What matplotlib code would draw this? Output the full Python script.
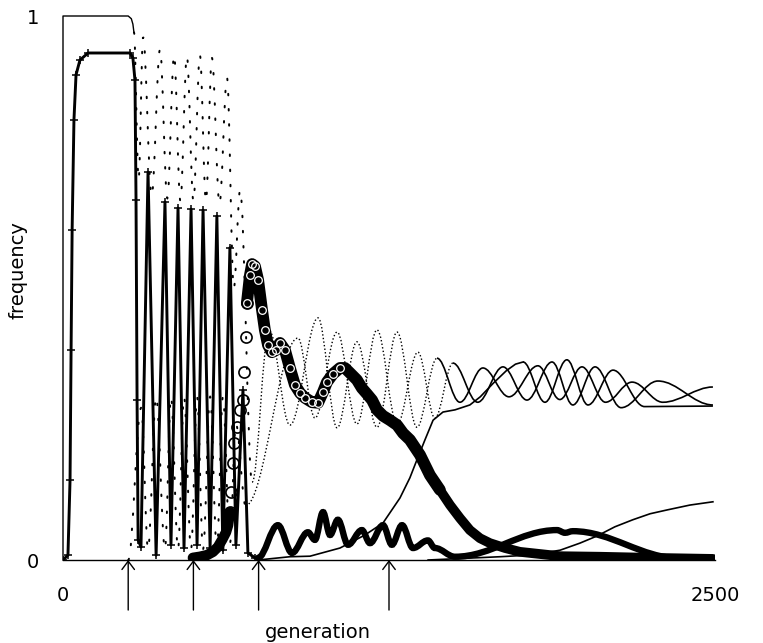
import numpy as np
import matplotlib
matplotlib.use("Agg")
import matplotlib.pyplot as plt
from matplotlib.path import Path
from matplotlib.patches import PathPatch

# allele frequency trajectories (generation, frequency)

# fixed allele, then fast dotted cycling, then slow cycling
top_solid_gen = [0, 0, 250, 262, 268, 272]
top_solid_val = [0.0, 1.0, 1.0, 0.995, 0.985, 0.97]
top_fast_gen = [272, 290, 307, 340, 372, 400, 426, 450, 475, 500, 525, 548, 571, 600,
                629, 655, 679, 725]
top_fast_val = [0.97, 0.70, 0.961, 0.67, 0.939, 0.665, 0.928, 0.66, 0.926, 0.66, 0.928,
                0.66, 0.923, 0.655, 0.886, 0.50, 0.680, 0.143]
top_slow_gen = [725, 790, 870, 978, 1051, 1127, 1204, 1281, 1357, 1434]
top_slow_val = [0.143, 0.423, 0.248, 0.445, 0.243, 0.401, 0.244, 0.419, 0.244, 0.371]
braid_a_gen = [1434, 1522, 1610, 1710, 1821, 1905, 1990, 2080, 2182, 2300, 2492]
braid_a_val = [0.371, 0.290, 0.353, 0.300, 0.357, 0.295, 0.355, 0.290, 0.327, 0.290, 0.318]

# low dotted cycling
low_fast_gen = [250, 300, 326, 357, 391, 414, 441, 464, 491, 514, 537, 564, 590, 613, 640,
                663, 700]
low_fast_val = [0.0, 0.28, 0.02, 0.30, 0.02, 0.30, 0.02, 0.30, 0.02, 0.30, 0.02, 0.30, 0.02,
                0.30, 0.03, 0.25, 0.10]
low_slow_gen = [700, 901, 966, 1051, 1127, 1204, 1281, 1361, 1426, 1495]
low_slow_val = [0.10, 0.408, 0.261, 0.419, 0.25, 0.423, 0.25, 0.382, 0.261, 0.362]
braid_b_gen = [1495, 1590, 1687, 1779, 1875, 1955, 2040, 2140, 2281, 2492]
braid_b_val = [0.362, 0.290, 0.355, 0.294, 0.364, 0.285, 0.355, 0.280, 0.329, 0.285]

# slow riser that joins the braid
rise_gen = [748, 870, 947, 1062, 1158, 1227, 1292, 1330, 1357, 1388, 1419, 1457, 1503,
            1560, 1600, 1650, 1700, 1735, 1764]
rise_val = [0.0, 0.006, 0.007, 0.022, 0.046, 0.068, 0.114, 0.151, 0.184, 0.221, 0.257,
            0.272, 0.276, 0.285, 0.30, 0.325, 0.348, 0.36, 0.364]
braid_c_gen = [1764, 1848, 1932, 2013, 2109, 2230, 2492]
braid_c_val = [0.364, 0.290, 0.368, 0.285, 0.349, 0.282, 0.283]

# late riser
late_gen = [1400, 1675, 1790, 1906, 1982, 2047, 2116, 2185, 2251, 2316, 2404, 2492]
late_val = [0.0, 0.006, 0.009, 0.018, 0.031, 0.044, 0.061, 0.074, 0.085, 0.092, 0.101, 0.107]

# plateau allele with spikes ('+' markers)
plus_gen = [0, 19, 27, 31, 35, 42, 50, 65, 96, 257, 268, 276, 280, 284, 288, 299, 326, 357,
            391, 414, 441, 464, 491, 514, 537, 564, 590, 613, 640, 663, 690, 709, 736]
plus_val = [0.0, 0.009, 0.147, 0.386, 0.607, 0.809, 0.892, 0.919, 0.932, 0.932, 0.923, 0.882,
            0.662, 0.294, 0.037, 0.024, 0.713, 0.009, 0.658, 0.028, 0.647, 0.022, 0.645,
            0.028, 0.643, 0.022, 0.632, 0.018, 0.574, 0.028, 0.312, 0.013, 0.004]

# open circle allele
circ_gen = np.array([498, 525, 552, 575, 594, 610, 625, 633, 640, 644, 652, 656, 667, 679,
                     690, 694, 702, 705, 717, 725, 736, 748, 763, 774, 786, 801, 817, 832,
                     851, 870, 889, 909, 928, 955, 978, 997, 1012, 1035, 1062, 1081, 1100,
                     1127, 1146, 1166, 1185, 1204, 1227, 1254, 1281, 1304, 1330, 1369, 1407,
                     1445, 1484, 1522, 1560, 1599, 1637, 1695, 1752, 1829, 1906, 2059, 2251,
                     2492])
circ_val = np.array([0.004, 0.006, 0.009, 0.015, 0.024, 0.037, 0.051, 0.064, 0.088, 0.125,
                     0.178, 0.215, 0.244, 0.276, 0.294, 0.346, 0.410, 0.472, 0.524, 0.544,
                     0.540, 0.515, 0.46, 0.423, 0.395, 0.382, 0.386, 0.399, 0.386, 0.353,
                     0.322, 0.307, 0.298, 0.290, 0.289, 0.309, 0.327, 0.342, 0.353, 0.353,
                     0.344, 0.331, 0.316, 0.305, 0.294, 0.276, 0.265, 0.257, 0.248, 0.233,
                     0.221, 0.193, 0.156, 0.129, 0.101, 0.077, 0.055, 0.040, 0.031, 0.022,
                     0.015, 0.011, 0.007, 0.006, 0.004, 0.002])

# wavy bold allele, turning points
wavy_gen = [748, 824, 878, 939, 966, 997, 1024, 1054, 1093, 1146, 1177, 1227, 1261, 1300,
            1342, 1399, 1426, 1503, 1894, 1925, 1955, 2366, 2492]
wavy_val = [0.004, 0.064, 0.013, 0.051, 0.037, 0.088, 0.046, 0.074, 0.028, 0.055, 0.031,
            0.064, 0.028, 0.064, 0.022, 0.036, 0.022, 0.006, 0.055, 0.050, 0.053, 0.003, 0.002]

arrow_gens = [250, 500, 750, 1250]


def wave(ax, xs, ys, **kw):
    # smooth curve through turning points, flat tangent at each one
    verts = [(xs[0], ys[0])]
    codes = [Path.MOVETO]
    for x0, y0, x1, y1 in zip(xs[:-1], ys[:-1], xs[1:], ys[1:]):
        dx = (x1 - x0) * 0.36
        verts += [(x0 + dx, y0), (x1 - dx, y1), (x1, y1)]
        codes += [Path.CURVE4] * 3
    ax.add_patch(PathPatch(Path(verts, codes), fill=False, **kw))


fig = plt.figure(figsize=(7.63, 6.43), dpi=100)
ax = fig.add_axes([63 / 763, 83 / 643, 652 / 763, 544 / 643])
ax.set_xlim(0, 2500)
ax.set_ylim(0, 1)

sparse_dots = dict(color='k', lw=1.4, linestyle=(0, (0.8, 7)), capstyle='round')
fine_dots = dict(color='k', lw=1.0, linestyle=(0, (1, 1.6)))
thin = dict(color='k', lw=1.2)

ax.plot(top_solid_gen, top_solid_val, color='k', lw=1.0, clip_on=False)
wave(ax, top_fast_gen, top_fast_val, **sparse_dots)
wave(ax, top_slow_gen, top_slow_val, **fine_dots)
wave(ax, braid_a_gen, braid_a_val, **thin)

wave(ax, low_fast_gen, low_fast_val, **sparse_dots)
wave(ax, low_slow_gen, low_slow_val, **fine_dots)
wave(ax, braid_b_gen, braid_b_val, **thin)

ax.plot(rise_gen, rise_val, **thin)
wave(ax, braid_c_gen, braid_c_val, **thin)

ax.plot(late_gen, late_val, **thin)

ax.plot(plus_gen, plus_val, color='k', lw=2.1, marker='+', ms=6, mew=1.1)

# open circles: dense band with a scattered burst around generation 650-700
burst = (circ_gen > 635) & (circ_gen < 710)
early = circ_gen <= 640
mid = (circ_gen >= 705) & (circ_gen <= 1450)
tail = circ_gen >= 1440
ax.plot(circ_gen[early], circ_val[early], color='k', lw=7.5, solid_capstyle='round')
ax.plot(circ_gen[burst], circ_val[burst], 'o', mfc='none', mec='k', ms=8, mew=1.2)
ax.plot(circ_gen[mid], circ_val[mid], color='k', lw=8.5, solid_capstyle='round')
ax.plot(circ_gen[tail], circ_val[tail], color='k', lw=7, solid_capstyle='round')
ax.plot(circ_gen[mid][:22], circ_val[mid][:22], 'o', mfc='none', mec='white',
        ms=5.5, mew=0.9)

wave(ax, wavy_gen, wavy_val, color='k', lw=4.6, capstyle='round')

for g in arrow_gens:
    ax.annotate('', xy=(g, 0), xytext=(g, -0.092), xycoords='data',
                arrowprops=dict(arrowstyle='->,head_length=0.6,head_width=0.45',
                                color='k', lw=1.0, shrinkA=0, shrinkB=0),
                annotation_clip=False)

for side in ['top', 'right', 'left']:
    ax.spines[side].set_visible(False)
ax.spines['bottom'].set_linewidth(1.0)

ax.set_xticks([0, 2500])
ax.set_xticklabels(['0', '2500'])
ax.set_yticks([0, 1])
ax.set_yticklabels(['0', '1'])
ax.tick_params(length=0, labelsize=14)
ax.tick_params(axis='y', pad=17)
ax.tick_params(axis='x', pad=19)

fig.text(318 / 763, 1 - 632 / 643, 'generation', ha='center', va='center', fontsize=14)
fig.text(18 / 763, 1 - 270 / 643, 'frequency', ha='center', va='center', fontsize=14,
         rotation=90)

fig.savefig('out.png', dpi=100, facecolor='white')
